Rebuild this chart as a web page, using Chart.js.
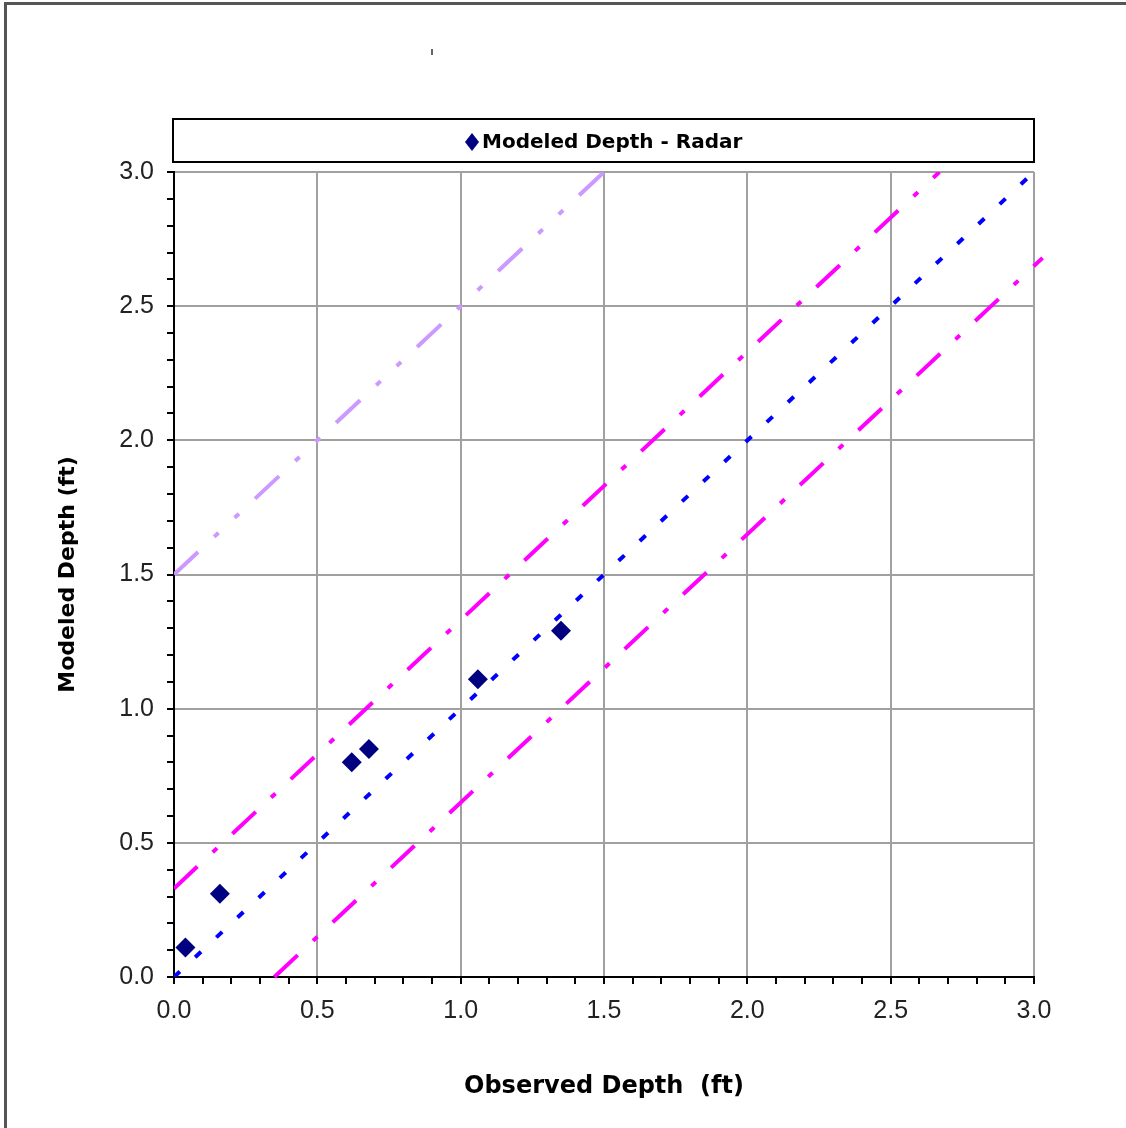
<!DOCTYPE html>
<html>
<head>
<meta charset="utf-8">
<script src="https://cdn.jsdelivr.net/npm/chart.js@4/dist/chart.umd.min.js"></script>
<style>
  html, body { margin: 0; padding: 0; background: #ffffff; }
  #wrap { position: relative; width: 1126px; height: 1128px; }
</style>
</head>
<body>
<div id="wrap"><canvas id="c" width="1126" height="1128"></canvas></div>
<script>
// ---- Data ----
const observedDepth = [0.04, 0.16, 0.62, 0.68, 1.06, 1.35];
const modeledDepth  = [0.11, 0.31, 0.80, 0.85, 1.11, 1.29];

const oneToOneX = [0, 3.0];
const oneToOneY = [0, 3.0];

const upperBandX = [0, 2.67];
const upperBandY = [0.33, 3.0];

const lowerBandX = [0.35, 3.03];
const lowerBandY = [0, 2.68];

const offsetLineX = [0, 1.5];
const offsetLineY = [1.5, 3.0];

const tickValues = [0, 0.1, 0.2, 0.3, 0.4, 0.5, 0.6, 0.7, 0.8, 0.9,
                    1.0, 1.1, 1.2, 1.3, 1.4, 1.5, 1.6, 1.7, 1.8, 1.9,
                    2.0, 2.1, 2.2, 2.3, 2.4, 2.5, 2.6, 2.7, 2.8, 2.9, 3.0];
const majorTickLabels = ['0.0', '0.5', '1.0', '1.5', '2.0', '2.5', '3.0'];

const seriesLabel = 'Modeled Depth - Radar';
const xTitle = 'Observed Depth  (ft)';
const yTitle = 'Modeled Depth (ft)';

// ---- Helpers ----
const pts = (xs, ys) => xs.map((x, i) => ({ x: x, y: ys[i] }));
const isMajor = v => Math.abs(v * 2 - Math.round(v * 2)) < 1e-6;
const labelFor = v => {
  if (!isMajor(v)) return '';
  return majorTickLabels[Math.round(v * 2)];
};

const gridColor = ctx => (ctx.tick && isMajor(ctx.tick.value)) ? '#a0a0a0' : 'rgba(0,0,0,0)';

const decor = {
  id: 'decor',
  afterDraw(chart) {
    const ctx = chart.ctx;
    ctx.save();
    // page frame (left & top)
    ctx.fillStyle = '#555555';
    ctx.fillRect(4, 2, 3, 1126);
    ctx.fillRect(4, 2, 1122, 3);
    // stray mark
    ctx.fillStyle = '#666666';
    ctx.fillRect(431, 49, 2, 6);
    // legend box
    ctx.strokeStyle = '#000000';
    ctx.lineWidth = 2;
    ctx.strokeRect(173, 119, 861, 43);
    // legend marker
    ctx.fillStyle = '#000080';
    ctx.beginPath();
    ctx.moveTo(472, 133);
    ctx.lineTo(479, 142);
    ctx.lineTo(472, 151);
    ctx.lineTo(465, 142);
    ctx.closePath();
    ctx.fill();
    // legend text
    ctx.fillStyle = '#000000';
    ctx.font = 'bold 20px "DejaVu Sans"';
    ctx.textBaseline = 'middle';
    ctx.textAlign = 'left';
    ctx.fillText(seriesLabel, 482, 143);
    ctx.restore();
  }
};

const chart = new Chart(document.getElementById('c'), {
  type: 'scatter',
  data: {
    datasets: [
      {
        label: seriesLabel,
        data: pts(observedDepth, modeledDepth),
        pointStyle: 'rectRot',
        pointRadius: 10,
        pointHoverRadius: 10,
        backgroundColor: '#000080',
        borderColor: '#000080',
        borderWidth: 0,
        showLine: false
      },
      {
        label: '1:1',
        data: pts(oneToOneX, oneToOneY),
        showLine: true,
        pointRadius: 0,
        borderColor: '#0000ff',
        borderWidth: 4,
        borderDash: [8, 21],
        borderCapStyle: 'butt'
      },
      {
        label: 'upper',
        data: pts(upperBandX, upperBandY),
        showLine: true,
        pointRadius: 0,
        borderColor: '#ff00ff',
        borderWidth: 4,
        borderDash: [32, 21, 6, 21],
        borderCapStyle: 'butt'
      },
      {
        label: 'lower',
        data: pts(lowerBandX, lowerBandY),
        showLine: true,
        pointRadius: 0,
        borderColor: '#ff00ff',
        borderWidth: 4,
        borderDash: [32, 21, 6, 21],
        borderCapStyle: 'butt',
        clip: false
      },
      {
        label: 'offset',
        data: pts(offsetLineX, offsetLineY),
        showLine: true,
        pointRadius: 0,
        borderColor: '#cc99ff',
        borderWidth: 4,
        borderDash: [33, 22, 6, 22, 6, 22],
        borderCapStyle: 'butt'
      }
    ]
  },
  options: {
    responsive: false,
    devicePixelRatio: 1,
    animation: false,
    events: [],
    layout: { padding: { left: 0, top: 172, right: 92, bottom: 0 } },
    plugins: {
      legend: { display: false },
      title: { display: false },
      tooltip: { enabled: false }
    },
    scales: {
      x: {
        type: 'linear',
        min: 0,
        max: 3,
        afterBuildTicks: s => { s.ticks = tickValues.map(v => ({ value: v })); },
        afterFit: s => { s.height = 151; },
        ticks: {
          autoSkip: false,
          maxRotation: 0,
          padding: 12,
          color: '#222222',
          font: { family: '"Liberation Sans", Arial, sans-serif', size: 25 },
          callback: v => labelFor(v)
        },
        grid: {
          color: gridColor,
          lineWidth: 2,
          drawTicks: true,
          tickLength: 7,
          tickColor: '#000000',
          tickWidth: 2
        },
        border: { display: true, color: '#000000', width: 2 },
        title: {
          display: true,
          text: xTitle,
          color: '#000000',
          font: { family: '"DejaVu Sans"', size: 24, weight: 'bold' },
          padding: { top: 0, bottom: 27 }
        }
      },
      y: {
        type: 'linear',
        min: 0,
        max: 3,
        afterBuildTicks: s => { s.ticks = tickValues.map(v => ({ value: v })); },
        afterFit: s => { s.width = 174; },
        ticks: {
          autoSkip: false,
          padding: 13,
          color: '#222222',
          font: { family: '"Liberation Sans", Arial, sans-serif', size: 25 },
          callback: v => labelFor(v)
        },
        grid: {
          color: gridColor,
          lineWidth: 2,
          drawTicks: true,
          tickLength: 7,
          tickColor: '#000000',
          tickWidth: 2
        },
        border: { display: true, color: '#000000', width: 2 },
        title: {
          display: true,
          text: yTitle,
          color: '#000000',
          font: { family: '"DejaVu Sans"', size: 22, weight: 'bold' },
          padding: { top: 55, bottom: 0 }
        }
      }
    }
  },
  plugins: [decor]
});
</script>
</body>
</html>
